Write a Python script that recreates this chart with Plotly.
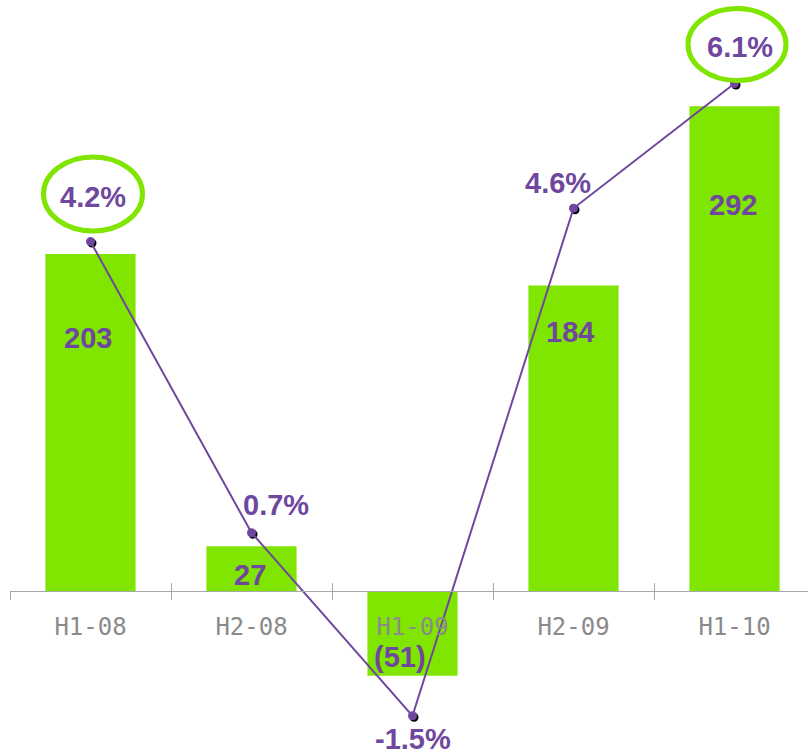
import plotly.graph_objects as go

# ---- data ----
periods = ["H1-08", "H2-08", "H1-09", "H2-09", "H1-10"]
ebitda = [203, 27, -51, 184, 292]
bar_text = ["203", "27", "(51)", "184", "292"]
margin_pct = [4.2, 0.7, -1.5, 4.6, 6.1]
margin_text = ["4.2%", "0.7%", "-1.5%", "4.6%", "6.1%"]

# ---- label placement (style) ----
bar_label_y = [152.6, 9.6, -39.8, 156.2, 232.5]
bar_label_dx = [-3, -2, -13, -4, -2]
pct_label_dx = [2, 24, 0, -16, 5]
pct_label_dy = [45, 28, -23, 25, 36.5]
highlight = [0, 4]

PURPLE = "#6F479E"
GREEN = "#80E500"
GRAY = "#8A8A8A"

W, H = 808, 756
ML = 10
cat_px = 161.0
zero_px = 591.0
bar_px_per_unit = 1.66
pct_px_per_unit = 83.2

xr = [-0.5, -0.5 + (W - ML) / cat_px]
yr = [-(H - zero_px) / bar_px_per_unit, zero_px / bar_px_per_unit]
y3r = [-(H - zero_px) / pct_px_per_unit, zero_px / pct_px_per_unit]
sh = 1.5
x2r = [xr[0] - sh / cat_px, xr[1] - sh / cat_px]
y2r = [y3r[0] + sh / pct_px_per_unit, y3r[1] + sh / pct_px_per_unit]

fig = go.Figure()
fig.add_trace(go.Bar(x=periods, y=ebitda, marker=dict(color=GREEN, line=dict(width=0)),
                     width=0.56, xaxis="x", yaxis="y", hoverinfo="skip"))
fig.add_trace(go.Scatter(x=periods, y=margin_pct, mode="markers",
                         marker=dict(color="black", size=9), xaxis="x2", yaxis="y2",
                         hoverinfo="skip"))
fig.add_trace(go.Scatter(x=periods, y=margin_pct, mode="lines+markers",
                         line=dict(color=PURPLE, width=2),
                         marker=dict(color=PURPLE, size=9),
                         xaxis="x3", yaxis="y3", hoverinfo="skip"))

pos = (H - zero_px) / H
common_hidden_y = dict(showgrid=False, zeroline=False, showticklabels=False, showline=False,
                       ticks="", fixedrange=True)
fig.update_layout(
    width=W, height=H,
    margin=dict(l=ML, r=0, t=0, b=0),
    paper_bgcolor="white", plot_bgcolor="white",
    showlegend=False,
    xaxis=dict(type="category", categoryorder="array", categoryarray=periods,
               range=xr, anchor="free", position=pos,
               showline=True, linecolor="#A8A8A8", linewidth=1.3,
               ticks="outside", tickson="boundaries", ticklen=8, tickcolor="#A8A8A8",
               tickwidth=1, showgrid=False, zeroline=False,
               tickfont=dict(family="DejaVu Sans Mono", size=24, color=GRAY),
               ticklabelstandoff=14),
    xaxis2=dict(type="category", categoryorder="array", categoryarray=periods,
                range=x2r, overlaying="x", anchor="y2", visible=False),
    xaxis3=dict(type="category", categoryorder="array", categoryarray=periods,
                range=xr, overlaying="x", anchor="free", position=pos,
                showline=False, ticks="inside", tickson="boundaries", ticklen=8,
                tickcolor="#A8A8A8", tickwidth=1, showticklabels=False,
                showgrid=False, zeroline=False),
    yaxis=dict(range=yr, domain=[0, 1], **common_hidden_y),
    yaxis2=dict(range=y2r, overlaying="y", anchor="x2", **common_hidden_y),
    yaxis3=dict(range=y3r, overlaying="y", anchor="x3", **common_hidden_y),
)

label_font = dict(family="Liberation Sans", size=29, color=PURPLE, weight="bold")
for i, p in enumerate(periods):
    fig.add_annotation(x=p, y=bar_label_y[i], xref="x", yref="y", text=bar_text[i],
                       showarrow=False, xshift=bar_label_dx[i], font=label_font,
                       xanchor="center", yanchor="middle")
    fig.add_annotation(x=p, y=margin_pct[i], xref="x3", yref="y3", text=margin_text[i],
                       showarrow=False, xshift=pct_label_dx[i], yshift=pct_label_dy[i],
                       font=label_font, xanchor="center", yanchor="middle")

ell = {0: (-47, 52, 10.6, 84.6), 4: (-46.5, 51.5, 3, 75)}
for i in highlight:
    x0, x1, y0, y1 = ell[i]
    fig.add_shape(type="circle", xref="x3", yref="y3",
                  xsizemode="pixel", ysizemode="pixel",
                  xanchor=periods[i], yanchor=margin_pct[i],
                  x0=x0, x1=x1, y0=y0, y1=y1,
                  line=dict(color=GREEN, width=5), fillcolor="rgba(0,0,0,0)")

fig.write_html("out.html")
